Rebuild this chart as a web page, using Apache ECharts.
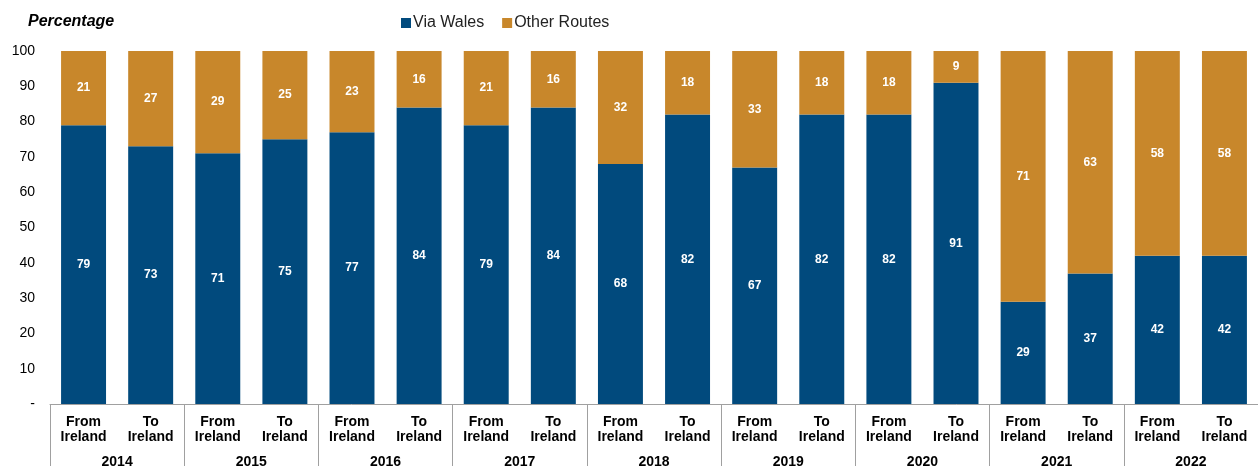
<!DOCTYPE html>
<html><head><meta charset="utf-8">
<script src="https://cdn.jsdelivr.net/npm/echarts@6/dist/echarts.min.js"></script>
<style>html,body{margin:0;padding:0;background:#fff}#c{width:1258px;height:466px}</style>
</head><body><div id="c"></div>
<script>
const categories = ["From\nIreland","To\nIreland","From\nIreland","To\nIreland","From\nIreland","To\nIreland","From\nIreland","To\nIreland","From\nIreland","To\nIreland","From\nIreland","To\nIreland","From\nIreland","To\nIreland","From\nIreland","To\nIreland","From\nIreland","To\nIreland"];
const years = ["2014","2015","2016","2017","2018","2019","2020","2021","2022"];
const viaWales = [79,73,71,75,77,84,79,84,68,82,67,82,82,91,29,37,42,42];
const otherRoutes = [21,27,29,25,23,16,21,16,32,18,33,18,18,9,71,63,58,58];
const yTicks = [0,10,20,30,40,50,60,70,80,90,100];

const font = '"Liberation Sans", Arial, sans-serif';
const chart = echarts.init(document.getElementById('c'));
chart.setOption({
  animation: false,
  textStyle: {fontFamily: font},
  graphic: [{type:'text', left: 28, top: 14, style:{text:'Percentage', font:'italic bold 16px ' + font, fill:'#000'}}],
  legend: {
    top: 10, left: 396, itemWidth: 10, itemHeight: 10, itemGap: 18,
    icon: 'rect',
    textStyle: {fontSize: 16, color: '#222', fontFamily: font, padding:[0,0,0,-3]},
    data: ['Via Wales','Other Routes']
  },
  grid: {left: 50, right: 0, top: 51, bottom: 62, containLabel: false, outerBoundsMode: 'none'},
  xAxis: [{
    type: 'category', data: categories,
    axisLine: {show: true, lineStyle: {color: '#a0a0a0', width: 1}},
    axisTick: {show: false},
    axisLabel: {interval: 0, margin: 11, fontSize: 14, fontWeight: 'bold', color: '#000', lineHeight: 15, fontFamily: font}
  },{
    type: 'category', data: years, position: 'bottom',
    axisLine: {show: false},
    axisTick: {show: true, length: 62, lineStyle: {color: '#a0a0a0', width: 1}},
    axisLabel: {interval: 0, margin: 51, fontSize: 14, fontWeight: 'bold', color: '#000', fontFamily: font}
  }],
  yAxis: {
    type: 'value', min: yTicks[0], max: yTicks[yTicks.length-1], interval: 10,
    splitLine: {show: false}, axisLine: {show: false}, axisTick: {show: false},
    axisLabel: {margin: 15, fontSize: 14, color: '#000', fontFamily: font,
      formatter: v => v === 0 ? '-' : String(v)}
  },
  series: [{
    name: 'Via Wales', type: 'bar', stack: 't', data: viaWales, xAxisIndex: 0,
    barCategoryGap: '33%',
    itemStyle: {color: '#014A7D'},
    label: {show: true, position: 'inside', color: '#fff', fontWeight: 'bold', fontSize: 12, fontFamily: font}
  },{
    name: 'Other Routes', type: 'bar', stack: 't', data: otherRoutes, xAxisIndex: 0,
    barCategoryGap: '33%',
    itemStyle: {color: '#C8872B'},
    label: {show: true, position: 'inside', color: '#fff', fontWeight: 'bold', fontSize: 12, fontFamily: font}
  }]
});
</script></body></html>
